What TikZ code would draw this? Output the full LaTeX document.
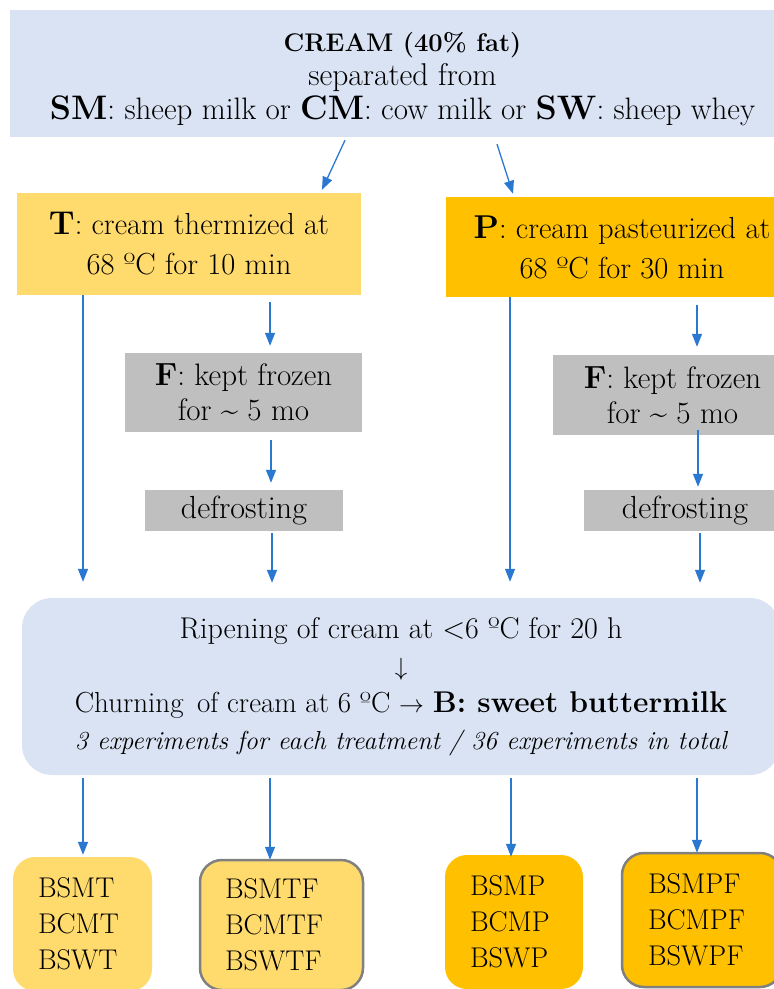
\documentclass[tikz,border=0pt]{standalone}
\usepackage{fontspec}
\usetikzlibrary{arrows.meta}
\definecolor{bluebg}{HTML}{DAE3F3}
\definecolor{yellowlt}{HTML}{FFDB6E}
\definecolor{orangebx}{HTML}{FFC000}
\definecolor{graybx}{HTML}{BFBFBF}
\definecolor{borderg}{HTML}{808080}
\definecolor{arrowblue}{HTML}{2A78D0}
\newcommand\fsz[2]{\fontsize{#1}{#2}\selectfont}
\begin{document}
\begin{tikzpicture}[x=1pt,y=-1pt,
  box/.style={rectangle, inner sep=0pt, align=center},
  resbox/.style={rectangle, rounded corners=22pt, inner ysep=0pt, align=left, font=\fsz{28.5}{36}},
  conn/.style={draw=arrowblue, line width=1.3pt, -{Triangle[length=13pt,width=10pt]}}
]
\useasboundingbox (0,0) rectangle (774,989);
\clip (0,0) rectangle (774,989);

% top box
\node[box, fill=bluebg, minimum width=785pt, minimum height=127pt, font=\fsz{31}{34}] (top) at (402.5,73.5)
  {\rule{0pt}{30pt}{\fsz{25.5}{34}\bfseries CREAM (40\% fat)}\\
   {\fsz{31.5}{34}separated from}\\
   {\fsz{34}{34}\bfseries SM}: sheep milk or {\fsz{34}{34}\bfseries CM}: cow milk or {\fsz{34}{34}\bfseries SW}: sheep whey};

% treatment boxes
\node[box, fill=yellowlt, minimum width=344pt, minimum height=102pt, font=\fsz{30.5}{40}] (T) at (189,244)
  {{\fsz{33}{40}\bfseries T}: cream thermized at\\ 68 ºC for 10 min};
\node[box, fill=orangebx, minimum width=352pt, minimum height=100pt, font=\fsz{30.5}{40}] (P) at (622,247)
  {{\fsz{33}{40}\bfseries P}: cream pasteurized at\\ 68 ºC for 30 min};

% frozen boxes
\node[box, fill=graybx, minimum width=237pt, minimum height=79pt, font=\fsz{31}{35}] (F1) at (243.5,392.5)
  {{\fsz{32}{35}\bfseries F}: kept frozen\\ for \textasciitilde{} 5 mo};
\node[box, fill=graybx, minimum width=239pt, minimum height=80pt, font=\fsz{31}{35}] (F2) at (672.5,395)
  {{\fsz{32}{35}\bfseries F}: kept frozen\\ for \textasciitilde{} 5 mo};

% defrosting
\node[box, fill=graybx, minimum width=198pt, minimum height=41pt, font=\fsz{32}{35}] (D1) at (244,510.5) {defrosting};
\node[box, fill=graybx, minimum width=202pt, minimum height=41pt, font=\fsz{32}{35}] (D2) at (685,510.5) {defrosting};

% big box
\node[box, fill=bluebg, rounded corners=30pt, minimum width=758pt, minimum height=177pt, font=\fsz{30}{37}] (big) at (401,686.5)
  {Ripening of cream at <6 ºC for 20 h\\
   $\downarrow$\\
   {\fsz{29}{37}Churning\, of cream at 6 ºC $\rightarrow$ {\fsz{30}{37}\bfseries B: sweet buttermilk}}\\
   {\fsz{26}{37}\itshape 3 experiments for each treatment / 36 experiments in total}};

% result boxes
\node[resbox, fill=yellowlt, inner xsep=25pt, text width=89pt, minimum height=134pt] (B1) at (82.5,924) {BSMT\\BCMT\\BSWT};
\node[resbox, fill=yellowlt, draw=borderg, line width=2.5pt, inner xsep=25pt, text width=113pt, minimum height=130pt] (B2) at (281.5,925) {BSMTF\\BCMTF\\BSWTF};
\node[resbox, fill=orangebx, inner xsep=25pt, text width=88pt, minimum height=134pt] (B3) at (514,922) {BSMP\\BCMP\\BSWP};
\node[resbox, fill=orangebx, draw=borderg, line width=2.5pt, inner xsep=26pt, text width=108pt, minimum height=134pt] (B4) at (702,920) {BSMPF\\BCMPF\\BSWPF};

% connectors
\draw[conn] ([xshift=-57.5pt,yshift=-3pt]top.south) -- ([xshift=133pt,yshift=3pt]T.north);
\draw[conn] ([xshift=94.5pt,yshift=-7pt]top.south) -- ([xshift=-109pt,yshift=3pt]P.north);

\draw[conn] ([xshift=-106pt]T.south) -- ([xshift=-318pt,yshift=16pt]big.north);
\draw[conn] ([xshift=81pt,yshift=-7pt]T.south) -- ([xshift=26.5pt,yshift=7pt]F1.north);
\draw[conn] ([xshift=27.5pt,yshift=-8pt]F1.south) -- ([xshift=27pt,yshift=7pt]D1.north);
\draw[conn] ([xshift=28pt,yshift=-2pt]D1.south) -- ([xshift=-129pt,yshift=15pt]big.north);

\draw[conn] ([xshift=-112pt]P.south) -- ([xshift=109pt,yshift=16pt]big.north);
\draw[conn] ([xshift=75pt,yshift=-8pt]P.south) -- ([xshift=24.5pt,yshift=8pt]F2.north);
\draw[conn] ([xshift=25.5pt,yshift=5pt]F2.south) -- ([xshift=13pt,yshift=3pt]D2.north);
\draw[conn] ([xshift=15pt,yshift=-2pt]D2.south) -- ([xshift=299pt,yshift=15pt]big.north);

\draw[conn] ([xshift=-318pt,yshift=-3pt]big.south) -- ([xshift=0.5pt,yshift=2pt]B1.north);
\draw[conn] ([xshift=-131pt,yshift=-3pt]big.south) -- ([xshift=-11.5pt,yshift=-1pt]B2.north);
\draw[conn] ([xshift=110pt,yshift=-3pt]big.south) -- ([xshift=-3pt,yshift=-2pt]B3.north);
\draw[conn] ([xshift=296pt,yshift=-3pt]big.south) -- ([xshift=-5pt,yshift=-1pt]B4.north);
\end{tikzpicture}
\end{document}
